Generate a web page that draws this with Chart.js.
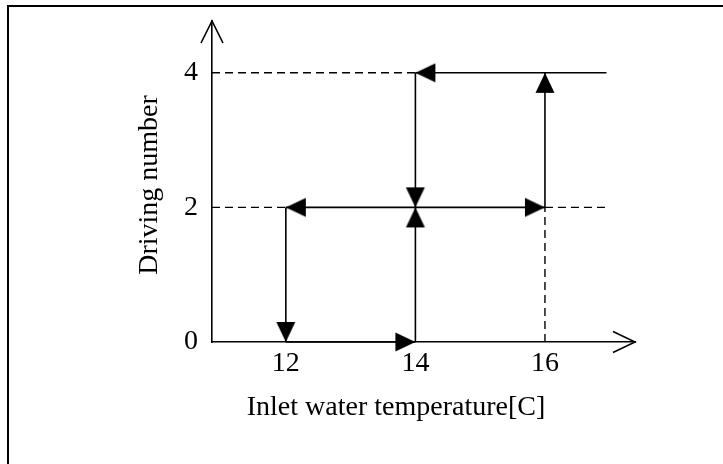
<!DOCTYPE html>
<html>
<head>
<meta charset="utf-8">
<script src="https://cdn.jsdelivr.net/npm/chart.js@4"></script>
<style>
  html, body { margin: 0; padding: 0; background: #fff; }
  #wrap { width: 723px; height: 464px; position: relative; }
</style>
</head>
<body>
<div id="wrap"><canvas id="c" width="723" height="464"></canvas></div>
<script>
// axis ticks + extents (x: inlet water temperature, y: driving number)
const tempTicks  = [12, 14, 16];
const driveTicks = [0, 2, 4];
const tempRange  = [10.86, 17.39];
const driveRange = [0, 4.77];

// hysteresis path, each segment = [from, to] in [temp, driving]
const solidSegs = [
  [[12, 0], [14, 0]],
  [[12, 2], [16, 2]],
  [[12, 2], [12, 0]],
  [[14, 0], [14, 4]],
  [[16, 2], [16, 4]],
  [[14, 4], [16.95, 4]],
];
const dashedSegs = [
  [[tempRange[0], 4], [14, 4]],
  [[tempRange[0], 2], [12, 2]],
  [[16, 2], [16.95, 2]],
  [[16, 0], [16, 2]],
];

// arrow heads: tip position + direction
const arrowTips = [[14, 4], [16, 4], [14, 2], [14, 2], [12, 2], [16, 2], [12, 0], [14, 0]];
const arrowDirs = ['left', 'up', 'down', 'up', 'left', 'right', 'down', 'right'];

const SERIF = "'Liberation Serif', 'Times New Roman', serif";
const rotOf = { up: 0, right: 90, down: 180, left: 270 };

function makeHead() {
  // tip sits at the image centre, body trails below it
  const c = document.createElement('canvas');
  c.width = 44; c.height = 44;
  const g = c.getContext('2d');
  g.fillStyle = '#000';
  g.beginPath();
  g.moveTo(22, 22);
  g.lineTo(31.5, 42);
  g.lineTo(12.5, 42);
  g.closePath();
  g.fill();
  return c;
}
const headImg = makeHead();

const toPts = seg => seg.map(([x, y]) => ({ x, y }));

const datasets = [{
  data: arrowTips.map(([x, y]) => ({ x, y })),
  pointStyle: headImg,
  pointRadius: 10,
  pointRotation: ctx => rotOf[arrowDirs[ctx.dataIndex]],
  showLine: false,
  clip: false,
}];
solidSegs.forEach(s => datasets.push({
  data: toPts(s), showLine: true, pointRadius: 0,
  borderColor: '#000', borderWidth: 1.6, clip: false,
}));
dashedSegs.forEach(s => datasets.push({
  data: toPts(s), showLine: true, pointRadius: 0,
  borderColor: '#000', borderWidth: 1.4, borderDash: [8, 5], clip: false,
}));

const decor = {
  id: 'decor',
  beforeDraw(chart) {
    const ctx = chart.ctx;
    ctx.save();
    ctx.fillStyle = '#000';
    ctx.fillRect(7, 5, 716, 2);
    ctx.fillRect(7, 5, 2, 459);
    ctx.restore();
  },
  afterDraw(chart) {
    const { ctx, chartArea: a } = chart;
    ctx.save();
    ctx.strokeStyle = '#000';
    ctx.lineWidth = 1.6;
    ctx.beginPath();
    ctx.moveTo(a.right - 22, a.bottom - 10.5);
    ctx.lineTo(a.right, a.bottom);
    ctx.lineTo(a.right - 22, a.bottom + 10.5);
    ctx.moveTo(a.left - 11, a.top + 22);
    ctx.lineTo(a.left, a.top);
    ctx.lineTo(a.left + 11, a.top + 22);
    ctx.stroke();

    ctx.fillStyle = '#000';
    ctx.font = '28px ' + SERIF;
    ctx.textAlign = 'center';
    ctx.textBaseline = 'middle';
    ctx.fillText('Inlet water temperature[C]', 396, 408);
    ctx.translate(150, 185);
    ctx.rotate(-Math.PI / 2);
    ctx.fillText('Driving number', 0, 0);
    ctx.restore();
  }
};

new Chart(document.getElementById('c'), {
  type: 'scatter',
  data: { datasets },
  plugins: [decor],
  options: {
    responsive: false,
    animation: false,
    events: [],
    layout: { padding: { left: 0, right: 88, top: 21, bottom: 0 } },
    plugins: { legend: { display: false }, tooltip: { enabled: false } },
    scales: {
      x: {
        type: 'linear', min: tempRange[0], max: tempRange[1],
        grid: { display: false, drawTicks: false },
        border: { color: '#000', width: 1.6 },
        ticks: { color: '#000', font: { family: SERIF, size: 28 }, padding: 5, maxRotation: 0, autoSkip: false },
        afterBuildTicks: s => { s.ticks = tempTicks.map(v => ({ value: v })); },
        afterFit: s => { s.height = 122; s.paddingLeft = 0; s.paddingRight = 0; },
      },
      y: {
        type: 'linear', min: driveRange[0], max: driveRange[1],
        grid: { display: false, drawTicks: false },
        border: { color: '#000', width: 1.6 },
        ticks: { color: '#000', font: { family: SERIF, size: 28 }, padding: 14, autoSkip: false },
        afterBuildTicks: s => { s.ticks = driveTicks.map(v => ({ value: v })); },
        afterFit: s => { s.width = 212; s.paddingTop = 0; s.paddingBottom = 0; },
      }
    }
  }
});
</script>
</body>
</html>
